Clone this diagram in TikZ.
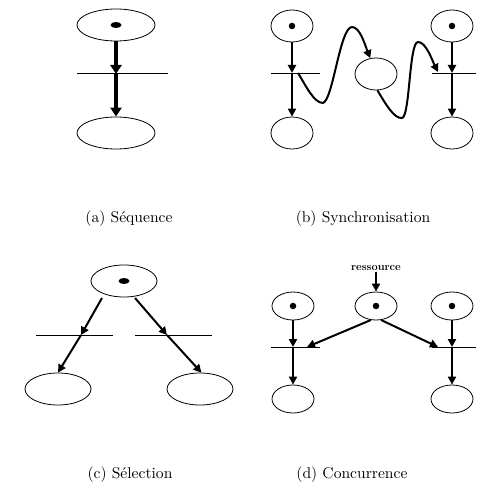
\documentclass[tikz,border=0pt]{standalone}
\usetikzlibrary{shapes.geometric,arrows.meta}
\begin{document}
\begin{tikzpicture}[x=1pt,y=-1pt,
  place/.style={draw, ellipse, line width=0.8pt, inner sep=0pt},
  bigplace/.style={place, minimum width=78pt, minimum height=32pt},
  midplace/.style={place, minimum width=66pt, minimum height=32pt},
  smallplace/.style={place, minimum width=42pt, minimum height=32pt},
  roundplace/.style={place, minimum width=42pt, minimum height=28pt},
  token/.style={fill, ellipse, inner sep=0pt, minimum width=11pt, minimum height=6pt},
  dot/.style={fill, circle, inner sep=0pt, minimum size=6.5pt},
  bar/.style={line width=0.7pt},
  arc/.style={line width=2pt, -{Triangle[length=8pt,width=8pt]}},
  heavyarc/.style={line width=3.4pt, -{Triangle[length=9pt,width=11pt]}},
  caption/.style={inner sep=0pt},
]
\newcommand{\captext}[1]{\scalebox{1.56}{#1}}
\useasboundingbox (0,0) rectangle (476,486);

% ---------- (a) sequence ----------
\node[bigplace] (a1) at (116,25) {};
\node[token] (a1t) at (116,25) {};
\coordinate (ta) at (116,74);
\coordinate (taL) at (77,73);
\coordinate (taR) at (168,73);
\draw[bar] (taL) -- (taR);
\node[bigplace] (a2) at (116,133) {};
\draw[heavyarc] (a1) -- (ta);
\draw[heavyarc] (ta) -- (a2);
\node[caption] (capa) at (129,219) {\captext{(a) Séquence}};

% ---------- (b) synchronisation ----------
\node[smallplace] (b1) at (292,26) {};
\node[dot] (b1t) at (292,26) {};
\coordinate (tb1) at (292,73);
\coordinate (tb1L) at (271,73);
\coordinate (tb1R) at (320,73);
\draw[bar] (tb1L) -- (tb1R);
\node[smallplace] (b2) at (292,133) {};
\draw[arc] (b1) -- (tb1);
\draw[arc] (tb1) -- (b2);

\node[smallplace] (bm) at (376,74) {};

\node[smallplace] (b3) at (452,26) {};
\node[dot] (b3t) at (452,26) {};
\coordinate (tb2) at (452,73);
\coordinate (tb2L) at (432,73);
\coordinate (tb2R) at (476,73);
\draw[bar] (tb2L) -- (tb2R);
\node[smallplace] (b4) at (452,133) {};
\draw[arc] (b3) -- (tb2);
\draw[arc] (tb2) -- (b4);

% wavy message arcs between the two processes
\coordinate (w1s) at (298,73);
\coordinate (w2e) at (438,72);
\draw[arc] (w1s) .. controls (306,86) and (314,103) .. (323,103)
  .. controls (333,100) and (340,27) .. (352,27)
  .. controls (360,27) and (365,45) .. (bm.110);
\draw[arc] (bm.-85) .. controls (385,103) and (394,119) .. (402,118)
  .. controls (410,117) and (409,42) .. (418,42)
  .. controls (426,42) and (432,60) .. (w2e);
\node[caption] (capb) at (363,219) {\captext{(b) Synchronisation}};

% ---------- (c) selection ----------
\node[midplace] (c1) at (124,281) {};
\node[token] (c1t) at (124,281) {};
\coordinate (tc1) at (81,335);
\coordinate (tc1L) at (36,335);
\coordinate (tc1R) at (113,335);
\coordinate (tc2) at (167,335);
\coordinate (tc2L) at (135,335);
\coordinate (tc2R) at (212,335);
\draw[bar] (tc1L) -- (tc1R);
\draw[bar] (tc2L) -- (tc2R);
\node[midplace] (c2) at (58,389) {};
\node[midplace] (c3) at (200,389) {};
\coordinate (c1s) at (102,298);
\coordinate (c1e) at (135,298);
\draw[arc] (c1s) -- (tc1);
\draw[arc] (tc1) -- (c2.north);
\draw[arc] (c1e) -- (tc2);
\draw[arc] (tc2) -- (c3.85);
\node[caption] (capc) at (130,475) {\captext{(c) Sélection}};

% ---------- (d) concurrence ----------
\node[font=\fontsize{11}{13}\selectfont\bfseries, inner sep=1pt] (res) at (376,268) {ressource};
\node[roundplace] (d1) at (293,306) {};
\node[dot] (d1t) at (293,306) {};
\node[roundplace] (dm) at (376,306) {};
\node[dot] (dmt) at (376,306) {};
\node[roundplace] (d3) at (452,306) {};
\node[dot] (d3t) at (452,306) {};
\coordinate (td1) at (293,347);
\coordinate (td1L) at (271,347);
\coordinate (td1R) at (320,347);
\coordinate (td2) at (452,347);
\coordinate (td2L) at (432,347);
\coordinate (td2R) at (476,347);
\draw[bar] (td1L) -- (td1R);
\draw[bar] (td2L) -- (td2R);
\node[roundplace] (d2) at (293,399) {};
\node[roundplace] (d4) at (452,399) {};
\coordinate (tdin1) at (307,347);
\coordinate (tdin2) at (438,347);
\draw[arc] (res) -- (dm);
\draw[arc] (d1) -- (td1);
\draw[arc] (td1) -- (d2);
\draw[arc] (d3) -- (td2);
\draw[arc] (td2) -- (d4);
\draw[arc] (dm.250) -- (tdin1);
\draw[arc] (dm.290) -- (tdin2);
\node[caption] (capd) at (352,475) {\captext{(d) Concurrence}};
\end{tikzpicture}
\end{document}
